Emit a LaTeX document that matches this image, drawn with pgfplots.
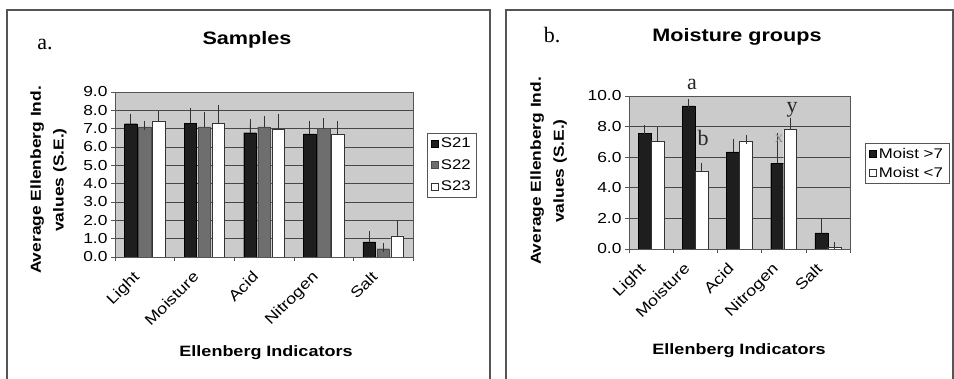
\documentclass[border=0pt]{standalone}
\usepackage{pgfplots}
\pgfplotsset{compat=1.18}
\usepackage{fontspec}
\setmainfont[FakeStretch=1.2]{Liberation Sans}
\newfontfamily\serifx{Liberation Serif}
\definecolor{plotbg}{HTML}{CBCBCB}
\definecolor{gridc}{HTML}{474747}
\definecolor{sa}{HTML}{1E1E1E}
\definecolor{sb}{HTML}{6E6E6E}
\definecolor{framec}{HTML}{555555}
\pgfplotsset{
  mybars/.style={
    scale only axis,
    anchor=south west,
    xmin=-0.5, xmax=4.5,
    ymin=0,
    xtick={0,1,2,3,4},
    xticklabels={Light,Moisture,Acid,Nitrogen,Salt},
    major x tick style={draw=none},
    minor xtick={-0.5,0.5,1.5,2.5,3.5,4.5},
    minor tick length=4pt,
    major tick length=4pt,
    tick align=outside,
    tick pos=left,
    tick style={draw=framec, line width=0.6pt},
    xticklabel style={rotate=45, anchor=north east, inner sep=1pt, font=\fontsize{15}{17}\selectfont, xshift=-14pt, yshift=3.5pt},
    yticklabel style={font=\fontsize{14.5}{16}\selectfont, /pgf/number format/.cd, fixed, fixed zerofill, precision=1},
    /pgf/number format/assume math mode=true,
    ymajorgrids,
    grid style={draw=gridc, line width=0.6pt},
    axis line style={draw=framec, line width=0.6pt},
    axis background/.style={fill=plotbg},
    legend cell align=left,
    legend style={draw=framec, line width=0.6pt, font=\fontsize{14}{16}\selectfont, inner xsep=4pt, inner ysep=3pt},
    error bars/y dir=plus,
    error bars/y explicit,
    error bars/error mark options={line width=0.8pt, mark size=4.5pt, draw=black!80},
    error bars/error bar style={line width=0.8pt, draw=black!80},
  },
  sqlegend/.style={legend image code/.code={\draw[##1, line width=0.6pt] (0pt,-3.5pt) rectangle (7pt,3.5pt);}},
}
\begin{document}
\begin{tikzpicture}[x=1pt,y=1pt]
\path[use as bounding box] (0,0) rectangle (954,379);
% panel frames
\draw[framec, line width=1.2pt] (7,0) -- (7,369) -- (490,369) -- (490,0);
\draw[framec, line width=1.2pt] (506,0) -- (506,369) -- (953,369) -- (953,0);

% ---------- panel a ----------
\begin{axis}[mybars,
  at={(115pt,122pt)}, width=298pt, height=165pt,
  ymax=9, ytick={0,1,...,9},
  ybar=1.5pt, bar width=0.21,
  sqlegend,
  legend style={at={(axis description cs:1.047,0.752)}, anchor=north west, row sep=6pt},
]
\addplot[fill=sa, draw=black, sqlegend] coordinates {
 (0,7.27) +- (0,0.30)
 (1,7.30) +- (0,0.60)
 (2,6.78) +- (0,0.50)
 (3,6.72) +- (0,0.48)
 (4,0.82) +- (0,0.33)};
\addplot[fill=sb, draw=black!70, sqlegend] coordinates {
 (0,7.10) +- (0,0.10)
 (1,7.10) +- (0,0.55)
 (2,7.10) +- (0,0.32)
 (3,7.00) +- (0,0.35)
 (4,0.45) +- (0,0.08)};
\addplot[fill=white, draw=black!80, sqlegend] coordinates {
 (0,7.43) +- (0,0.27)
 (1,7.30) +- (0,0.72)
 (2,6.95) +- (0,0.62)
 (3,6.68) +- (0,0.52)
 (4,1.15) +- (0,0.60)};
\legend{S21,S22,S23}
\end{axis}

% ---------- panel b ----------
\begin{axis}[mybars,
  at={(629pt,130pt)}, width=221pt, height=153pt,
  ymax=10, ytick={0,2,...,10},
  ybar=0pt, bar width=0.294,
  sqlegend,
  legend style={at={(axis description cs:1.068,0.693)}, anchor=north west, row sep=3pt},
]
\addplot[fill=sa, draw=black, sqlegend] coordinates {
 (0,7.55) +- (0,0.25)
 (1,9.35) +- (0,0.15)
 (2,6.35) +- (0,0.55)
 (3,5.60) +- (0,1.70)
 (4,1.05) +- (0,0.65)};
\addplot[fill=white, draw=black!80, sqlegend] coordinates {
 (0,7.06) +- (0,0.60)
 (1,5.10) +- (0,0.25)
 (2,7.06) +- (0,0.10)
 (3,7.80) +- (0,0.50)
 (4,0.10) +- (0,0.05)};
\legend{Moist >7,Moist <7}
\end{axis}

% ---------- titles and labels ----------
\node[font=\bfseries\fontsize{18}{20}\selectfont, anchor=base] at (247,334) {Samples};
\node[font=\serifx\fontsize{22}{24}\selectfont, anchor=base] at (45,329) {a.};
\node[font=\bfseries\fontsize{18}{20}\selectfont, anchor=base] at (737,337) {Moisture groups};
\node[font=\serifx\fontsize{22}{24}\selectfont, anchor=base] at (552,336) {b.};

\node[font=\bfseries\fontsize{14.5}{23}\selectfont, rotate=90, align=center] at (48.5,199) {Average Ellenberg Ind.\\values (S.E.)};
\node[font=\bfseries\fontsize{14.5}{23}\selectfont, rotate=90, align=center] at (548.5,208) {Average Ellenberg Ind.\\values (S.E.)};
\node[font=\bfseries\fontsize{15}{17}\selectfont, anchor=base] at (266,22) {Ellenberg Indicators};
\node[font=\bfseries\fontsize{15}{17}\selectfont, anchor=base] at (739,24) {Ellenberg Indicators};

% significance letters
\node[font=\serifx\fontsize{22}{24}\selectfont, text=black!85, inner sep=0pt] at (692,294.5) {a};
\node[font=\serifx\fontsize{22}{24}\selectfont, text=black!85, inner sep=0pt] at (703,241.5) {b};
\node[font=\serifx\fontsize{22}{24}\selectfont, text=black!85, inner sep=0pt] at (792,269.5) {y};
\node[font=\serifx\fontsize{16}{18}\selectfont, text=black!45, inner sep=0pt] at (779,240) {x};
\end{tikzpicture}
\end{document}
